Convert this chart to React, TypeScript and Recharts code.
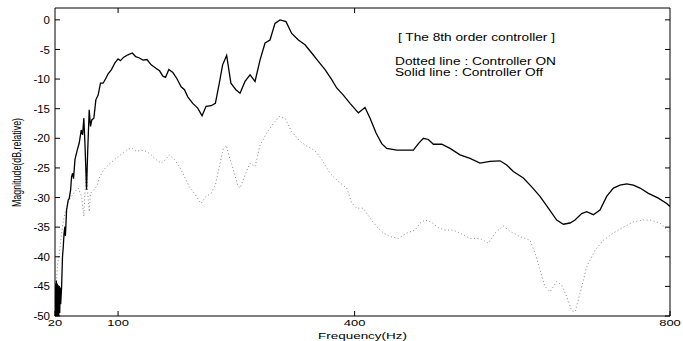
import React from "react";
import { LineChart, Line, XAxis, YAxis } from "recharts";

// Solid line: controller off
const offFreq = [
  20, 20.6, 21.2, 21.8, 22.4, 23.0, 23.6, 24.2, 24.8, 25.4, 26.0, 26.6, 27.2, 28.4, 29.5,
  30.5, 31.5, 32.6, 33.2, 34.7, 36.8, 38, 39.8, 41, 42.3, 43.5, 45.3, 48.2, 50.7, 53.3,
  55, 56.6, 58, 60, 61.5, 63.4, 65, 66.7, 69.3, 71.8, 74.7, 77.7, 81, 84.4, 87.4, 91.6,
  95.8, 100, 103, 107.2, 112.6, 118, 122.3, 126.5, 131.6, 136.6, 142, 148.4, 152.6,
  156.8, 160.2, 164.4, 169.5, 174.5, 180, 184.2, 188.4, 194.7, 201, 206.5, 211.6, 217.9,
  223.4, 228.4, 232.6, 237.7, 243.1, 249.4, 254.7, 261, 267.4, 273.7, 280, 286.4, 292.7,
  299, 305.4, 313, 320.2, 328.7, 337.1, 345.6, 354, 362.5, 371, 377.3, 385.7, 394.2,
  404.8, 413.2, 419.6, 427.2, 434.4, 440.7, 453.4, 474.5, 480.9, 487.2, 493.5, 499.9,
  510.5, 521, 533.7, 546.4, 559, 571.7, 584.4, 592.9, 601.3, 614, 624.6, 635.1, 645.7,
  656.3, 664.7, 673.2, 679.5, 688, 694.3, 702.8, 711.2, 719.7, 728.2, 736.6, 745.1,
  753.5, 762, 772.6, 785.2, 795.8, 800,
];
const offMag = [
  -50, -44.5, -50, -44, -50, -44.5, -50, -44.8, -50, -45, -49.5, -45.2, -48, -45, -40,
  -38.3, -36, -34.9, -36.5, -32.1, -30.4, -30.2, -28.7, -26.5, -25.9, -26.8, -23.6, -22,
  -20.8, -18.6, -19.4, -16.6, -21, -28.7, -22, -15.2, -18, -16.9, -16.6, -13.5, -12.7,
  -10.7, -10.7, -9.9, -9.1, -8.4, -7.3, -6.6, -6.9, -6.3, -5.9, -5.6, -6.2, -6.4, -6.8,
  -6.7, -7.6, -8.2, -8.6, -9.5, -9.7, -8.4, -8.9, -9.9, -11.3, -11.8, -13, -14.1, -14.9,
  -16.2, -14.6, -14.5, -14.1, -10.7, -7.6, -6.0, -10.7, -11.8, -12.4, -10.4, -9.3, -10.4,
  -6.8, -3.9, -3.4, -0.6, 0, -0.3, -2.3, -3.4, -4.2, -5.6, -7, -8.4, -10.1, -11.5, -12.7,
  -14.1, -15.7, -14.8, -16.6, -19.1, -20.9, -21.7, -22, -22, -20.9, -20, -20.2, -21, -21,
  -21.7, -22.8, -23.4, -24.2, -23.9, -23.8, -24.5, -25.6, -26.7, -28.2, -29.8, -31.8,
  -33.8, -34.5, -34.3, -33.8, -32.7, -32.4, -32.9, -32.1, -29.8, -28.4, -27.9, -27.7,
  -27.9, -28.4, -29.3, -30.1, -31, -31.5,
];

// Dotted line: controller on
const onFreq = [
  20, 21, 22.1, 23.5, 25.5, 28.4, 30.5, 32.6, 36.8, 41, 45.3, 49.5, 53.7, 56.6, 58.5, 60,
  61.7, 63.4, 65, 69.3, 73.5, 76.8, 81.9, 87.4, 93.7, 100, 106.3, 112.6, 118, 123.1,
  129.5, 135.8, 142.1, 148.4, 154.7, 160.2, 165.2, 171.6, 177.9, 184.2, 190.5, 196.8,
  205.2, 211.6, 217.9, 223.4, 228.4, 233.5, 237.3, 241, 246.2, 251.6, 254.7, 261, 267.4,
  273.7, 280, 288.5, 297, 304.6, 311.7, 320.2, 330.8, 339.2, 349.8, 358.3, 368.8, 379.4,
  390, 396.3, 402.6, 411.1, 419.6, 428, 436.5, 445, 455.5, 466.1, 476.6, 483, 489.3,
  497.8, 506.2, 514.7, 525.3, 533.7, 546.4, 559, 569.6, 578.1, 588.6, 597.1, 609.8,
  622.5, 628.8, 635.1, 641.5, 647.8, 656.3, 662.6, 669, 675.3, 679.5, 685.9, 694.3,
  704.9, 715.5, 728.2, 740.8, 753.5, 766.2, 774.7, 787.3, 800,
];
const onMag = [
  -46, -44.5, -43.4, -41, -39.4, -36, -34, -32.7, -30.7, -29.8, -29, -28.4, -29.8, -33.2,
  -28, -24.8, -29.8, -32.4, -29.3, -28.7, -27.9, -26.5, -25.3, -24.5, -23.8, -23.1, -22.5,
  -21.8, -21.7, -22.2, -22, -22.2, -22.8, -23.6, -24.2, -23.6, -22.8, -23.6, -24.8, -26.5,
  -28.2, -29.3, -31, -29.8, -29.3, -27.9, -24.8, -21.7, -21.2, -23.1, -25.3, -27.9, -28.4,
  -26.2, -24.2, -24.8, -21.2, -19.1, -17.5, -16.3, -16.6, -18.9, -20.5, -21.3, -22.1,
  -23.6, -25.9, -27.3, -28.4, -30.9, -31.8, -31.8, -33.5, -34.9, -36, -36.6, -36.9, -36,
  -35.5, -34.3, -33.8, -34.2, -35.1, -35.5, -35.5, -36, -36.9, -36.9, -37.7, -36, -34.8,
  -35.7, -36.6, -37.2, -39.4, -42.2, -45, -45.9, -44.2, -44.8, -46.7, -49.1, -49.3, -46.2,
  -41.7, -38.9, -37.2, -36, -35, -34.1, -33.8, -33.8, -34.3, -36,
];

const xTicks = [20, 100, 400, 800];
const yTicks = [-50, -45, -40, -35, -30, -25, -20, -15, -10, -5, 0];

const offData = offFreq.map((f, i) => ({ f, v: offMag[i] }));
const onData = onFreq.map((f, i) => ({ f, v: onMag[i] }));

const font = "'Liberation Sans', Arial, sans-serif";

const XTick = (props: any) => {
  const { x, y, payload } = props;
  const s = String(payload.value);
  return (
    <text
      x={x}
      y={y}
      dy="0.71em"
      textAnchor="middle"
      fontSize={9.5}
      fontFamily={font}
      fill="#000"
      textLength={s.length * 7.2}
      lengthAdjust="spacingAndGlyphs"
    >
      {s}
    </text>
  );
};

export default function App() {
  return (
    <div style={{ position: "absolute", left: 0, top: 0, width: 683, height: 341, background: "#fff" }}>
      <LineChart width={683} height={341} data={offData} margin={{ top: 0, right: 0, bottom: 0, left: 0 }}>
        <XAxis
          xAxisId="b"
          dataKey="f"
          type="number"
          domain={[20, 800]}
          ticks={xTicks}
          allowDataOverflow
          height={25}
          tickSize={-5}
          tickMargin={8}
          tick={<XTick />}
          axisLine={{ stroke: "#000" }}
          tickLine={{ stroke: "#000" }}
        />
        <XAxis
          xAxisId="t"
          orientation="top"
          dataKey="f"
          type="number"
          domain={[20, 800]}
          ticks={[100, 400]}
          allowDataOverflow
          height={8}
          tickSize={-5}
          tickFormatter={() => ""}
          axisLine={{ stroke: "#000" }}
          tickLine={{ stroke: "#000" }}
        />
        <YAxis
          yAxisId="l"
          type="number"
          domain={[-50, 2]}
          ticks={yTicks}
          allowDataOverflow
          width={55}
          tickSize={-5}
          tickMargin={10}
          tick={{ fontSize: 11.5, fontFamily: font, fill: "#000" }}
          axisLine={{ stroke: "#000" }}
          tickLine={{ stroke: "#000" }}
        />
        <YAxis
          yAxisId="r"
          orientation="right"
          type="number"
          domain={[-50, 2]}
          ticks={yTicks}
          allowDataOverflow
          width={13}
          tickSize={-5}
          tickFormatter={() => ""}
          axisLine={{ stroke: "#000" }}
          tickLine={{ stroke: "#000" }}
        />
        <Line
          xAxisId="b"
          yAxisId="l"
          data={onData}
          dataKey="v"
          type="linear"
          stroke="#888"
          strokeWidth={1}
          strokeDasharray="1 2.5"
          dot={false}
          isAnimationActive={false}
        />
        <Line
          xAxisId="b"
          yAxisId="l"
          data={offData}
          dataKey="v"
          type="linear"
          stroke="#000"
          strokeWidth={1.3}
          dot={false}
          isAnimationActive={false}
        />
      </LineChart>
      <svg
        width={683}
        height={341}
        style={{ position: "absolute", left: 0, top: 0, pointerEvents: "none" }}
        fontFamily={font}
        fill="#000"
      >
        <text x={398} y={40.5} fontSize={10} textLength={157} lengthAdjust="spacingAndGlyphs">
          [ The 8th order controller ]
        </text>
        <text x={395} y={65} fontSize={10} textLength={161} lengthAdjust="spacingAndGlyphs">
          Dotted line : Controller ON
        </text>
        <text x={395} y={75.7} fontSize={10} textLength={148} lengthAdjust="spacingAndGlyphs">
          Solid line : Controller Off
        </text>
        <text x={362.5} y={338.5} fontSize={9.5} textAnchor="middle" textLength={89} lengthAdjust="spacingAndGlyphs">
          Frequency(Hz)
        </text>
        <text
          x={0}
          y={0}
          fontSize={12}
          textAnchor="middle"
          dominantBaseline="central"
          textLength={89}
          lengthAdjust="spacingAndGlyphs"
          transform="translate(16.5,162.5) rotate(-90)"
        >
          Magnitude(dB,relative)
        </text>
      </svg>
    </div>
  );
}
